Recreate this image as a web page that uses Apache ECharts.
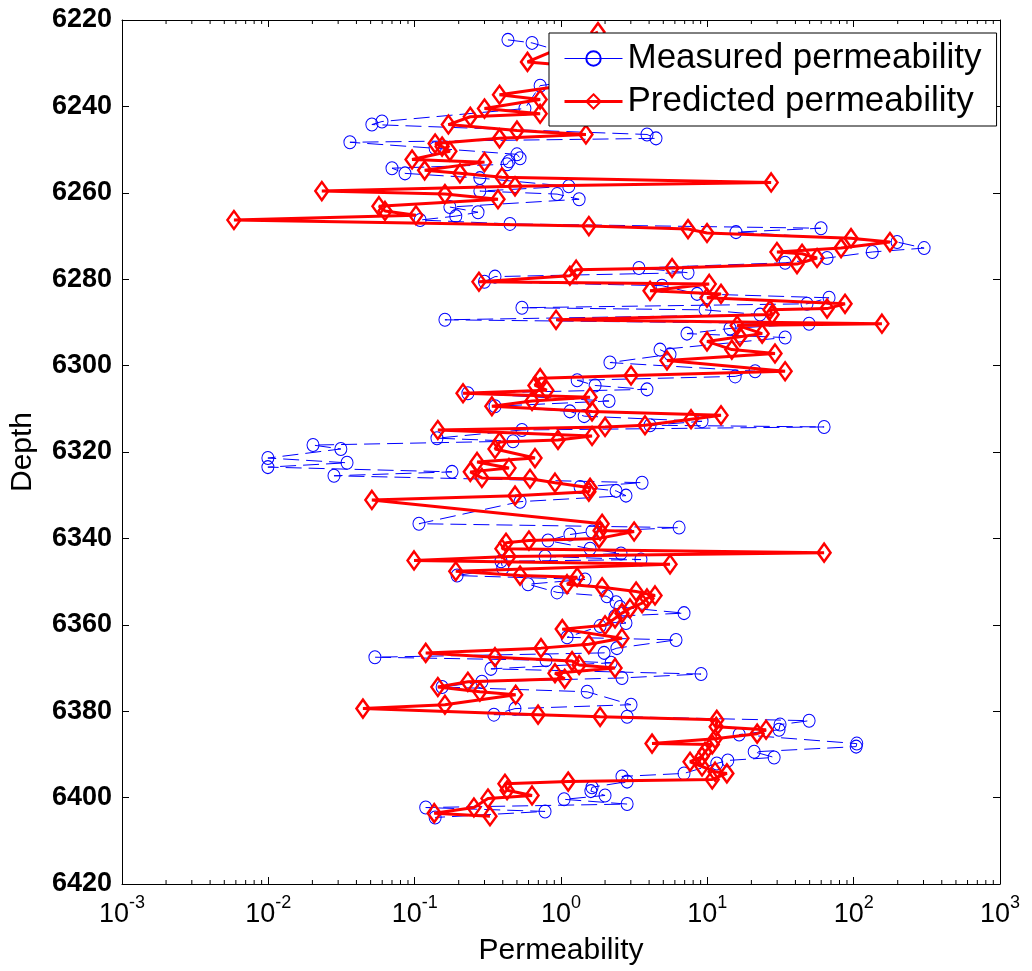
<!DOCTYPE html>
<html><head><meta charset="utf-8">
<script src="https://cdn.jsdelivr.net/npm/echarts@6/dist/echarts.min.js"></script>
<style>html,body{margin:0;padding:0;background:#fff}#c{width:1032px;height:971px}</style>
</head><body><div id="c"></div><script>
// [depth, permeability]
const measured = [[6224.6,0.434],[6225.3,0.634],[6229.2,1.58],[6232.7,2.53],[6235.2,0.72],[6240.5,0.567],[6243.5,0.0598],[6244.2,0.051],[6246.5,3.87],[6247.4,4.46],[6248.3,0.0361],[6249.7,0.138],[6251.1,0.50],[6252.0,0.525],[6252.7,0.441],[6253.4,0.428],[6254.3,0.070],[6255.5,0.0859],[6256.6,0.279],[6258.5,1.13],[6259.6,0.279],[6260.3,0.94],[6261.5,1.33],[6263.3,0.174],[6264.5,0.271],[6265.4,0.191],[6266.3,0.109],[6267.2,0.448],[6268.2,59.8],[6269.1,15.7],[6271.4,198],[6272.8,303],[6273.7,134],[6275.1,65.8],[6276.2,34.0],[6277.4,3.41],[6278.5,7.38],[6279.4,0.354],[6280.6,0.30],[6281.5,4.90],[6283.4,8.51],[6284.3,67.9],[6285.7,48.0],[6286.6,0.541],[6287.1,9.64],[6288.2,22.9],[6289.4,0.161],[6290.3,49.6],[6291.4,14.3],[6292.6,7.26],[6293.5,34.0],[6296.3,4.75],[6297.4,5.56],[6299.3,2.16],[6301.3,21.2],[6302.5,15.5],[6303.4,1.29],[6304.6,1.71],[6305.5,3.87],[6306.4,0.231],[6308.2,2.13],[6309.4,0.354],[6310.6,1.15],[6311.7,1.44],[6312.9,9.20],[6313.8,4.06],[6314.2,62.8],[6314.9,0.541],[6316.8,0.142],[6317.5,0.47],[6318.4,0.0202],[6319.3,0.0313],[6321.4,0.00993],[6322.5,0.0345],[6323.5,0.00993],[6324.6,0.18],[6325.5,0.0281],[6327.1,3.58],[6328.1,1.35],[6329.0,2.38],[6330.1,2.78],[6331.5,0.525],[6336.6,0.107],[6337.5,6.41],[6338.4,1.63],[6339.1,1.15],[6340.5,0.815],[6342.4,1.58],[6343.5,2.57],[6344.2,0.778],[6344.9,3.52],[6345.3,0.389],[6346.9,0.40],[6348.6,0.195],[6349.5,1.46],[6350.6,0.595],[6352.5,0.94],[6353.4,2.06],[6354.8,2.38],[6355.9,2.53],[6357.3,6.93],[6358.0,2.34],[6359.6,2.78],[6360.3,1.85],[6362.9,1.10],[6363.5,6.11],[6365.4,2.41],[6366.5,1.97],[6367.5,0.0535],[6368.2,0.79],[6368.8,2.20],[6370.2,0.332],[6371.4,9.06],[6372.3,2.61],[6373.2,0.288],[6374.4,0.154],[6375.5,1.51],[6378.5,3.01],[6379.4,0.485],[6380.8,0.348],[6381.3,2.83],[6382.2,49.6],[6383.1,31.4],[6384.3,30.9],[6385.4,16.5],[6387.5,105],[6388.2,104],[6389.4,20.9],[6390.7,28.6],[6391.4,13.8],[6392.1,11.6],[6394.4,6.93],[6395.1,2.61],[6396.3,2.83],[6397.6,1.63],[6398.5,1.60],[6399.5,2.00],[6400.4,1.05],[6401.5,2.83],[6402.3,0.119],[6403.2,0.778],[6404.6,0.138]];
const predicted = [[6222.8,1.79],[6229.7,0.59],[6231.5,2.5],[6235.0,1.15],[6237.3,0.38],[6238.4,0.72],[6240.5,0.30],[6241.7,0.72],[6242.4,0.24],[6244.2,0.17],[6245.6,0.50],[6246.5,1.48],[6247.4,0.38],[6248.6,0.138],[6249.3,0.154],[6250.4,0.174],[6252.3,0.096],[6252.9,0.30],[6254.8,0.117],[6255.5,0.204],[6256.4,0.395],[6257.6,27.3],[6258.5,0.485],[6259.6,0.0232],[6260.3,0.161],[6261.5,0.371],[6263.1,0.057],[6264.2,0.0627],[6265.2,0.102],[6266.3,0.00582],[6267.7,1.55],[6268.4,7.38],[6269.3,9.95],[6270.5,95.9],[6271.4,177],[6272.8,82.0],[6273.7,29.9],[6274.1,44.4],[6275.1,56.2],[6276.5,41.0],[6277.4,5.74],[6277.8,1.27],[6279.2,1.15],[6280.6,0.275],[6281.1,10.3],[6282.7,4.06],[6283.4,12.4],[6284.3,9.95],[6285.7,87.3],[6286.8,65.8],[6287.1,26.8],[6288.2,27.7],[6289.4,0.925],[6290.3,156],[6290.7,16.0],[6292.6,23.7],[6293.3,16.7],[6294.4,9.95],[6296.3,14.7],[6297.2,29.0],[6298.8,5.30],[6301.3,34.0],[6302.3,3.01],[6302.9,0.72],[6304.6,0.664],[6305.7,0.80],[6306.4,0.214],[6307.3,1.58],[6308.2,0.634],[6309.4,0.337],[6310.6,1.63],[6311.5,12.4],[6312.4,7.74],[6313.8,3.75],[6314.2,2.00],[6314.9,0.144],[6316.3,1.63],[6317.2,0.954],[6317.7,0.38],[6319.3,0.354],[6321.4,0.664],[6322.3,0.267],[6323.7,0.441],[6324.6,0.24],[6326.0,0.288],[6326.2,0.614],[6327.1,0.91],[6328.3,1.58],[6329.2,1.55],[6330.1,0.485],[6331.1,0.051],[6336.6,1.91],[6338.2,1.85],[6338.4,3.16],[6340.0,1.82],[6340.5,0.604],[6341.0,0.421],[6342.4,0.395],[6343.3,62.8],[6344.2,0.441],[6345.1,0.099],[6346.0,5.56],[6347.6,0.191],[6348.6,0.525],[6349.0,1.29],[6350.6,1.10],[6351.3,1.91],[6352.3,3.26],[6353.2,4.39],[6353.9,3.87],[6355.0,3.58],[6356.2,2.96],[6357.3,2.61],[6358.5,2.34],[6360.1,2.00],[6361.0,1.02],[6363.1,2.61],[6364.5,1.55],[6365.4,0.73],[6366.5,0.119],[6367.5,0.354],[6368.4,1.19],[6369.3,1.33],[6370.0,2.34],[6371.2,0.91],[6372.5,1.06],[6373.2,0.231],[6374.4,0.144],[6375.5,0.279],[6376.2,0.49],[6378.5,0.161],[6379.4,0.0443],[6380.8,0.697],[6381.3,1.85],[6382.0,11.6],[6383.6,11.5],[6384.3,25.2],[6385.2,21.9],[6386.4,11.3],[6387.5,4.19],[6387.7,10.8],[6389.4,9.64],[6390.5,9.20],[6391.7,7.62],[6392.8,9.20],[6394.0,11.3],[6394.4,13.6],[6395.8,10.8],[6396.3,1.12],[6396.8,0.414],[6398.3,0.428],[6399.5,0.634],[6400.2,0.317],[6402.3,0.254],[6403.6,0.136],[6404.3,0.327]];
const depthRange = [6220, 6420];
const depthStep = 20;
const permRange = [0.001, 1000];
const decadeExponents = [-3, -2, -1, 0, 1, 2];
const minorMultipliers = [2, 3, 4, 5, 6, 7, 8, 9];
const seriesNames = ['Measured permeability', 'Predicted permeability'];

const FONT = 'Liberation Sans, Arial, sans-serif';
const minorTicks = [];
decadeExponents.forEach(e => minorMultipliers.forEach(m => minorTicks.push([m * Math.pow(10, e), depthRange[0]])));

const chart = echarts.init(document.getElementById('c'), null, {renderer: 'canvas'});
const xBase = {
  type: 'log', logBase: 10, min: permRange[0], max: permRange[1], splitNumber: 6,
  axisLine: {show: true, lineStyle: {color: '#000', width: 1}},
  axisTick: {show: true, inside: true, length: 7, lineStyle: {color: '#000'}},
  splitLine: {show: false}
};
const yBase = {
  type: 'value', inverse: true, min: depthRange[0], max: depthRange[1], interval: depthStep,
  axisLine: {show: true, lineStyle: {color: '#000', width: 1}},
  axisTick: {show: true, inside: true, length: 7, lineStyle: {color: '#000'}},
  splitLine: {show: false}
};
chart.setOption({
  animation: false,
  backgroundColor: '#fff',
  grid: {left: 122, right: 32, top: 20, bottom: 83},
  legend: {
    left: 549, top: 33, orient: 'vertical',
    backgroundColor: '#fff', borderColor: '#000', borderWidth: 1,
    padding: [8, 15, 7, 14], itemGap: 8, itemWidth: 58, itemHeight: 18,
    data: [
      {name: seriesNames[0], lineStyle: {type: 'solid', width: 1, color: '#0000ff'}},
      {name: seriesNames[1], lineStyle: {type: 'solid', width: 3, color: '#ff0000'}}
    ],
    textStyle: {fontSize: 35, fontFamily: FONT, color: '#000'}
  },
  xAxis: [
    Object.assign({}, xBase, {
      position: 'bottom',
      name: 'Permeability', nameLocation: 'middle', nameGap: 52,
      nameTextStyle: {fontSize: 30, fontFamily: FONT, color: '#000'},
      axisLabel: {
        margin: 10,
        formatter: v => '{b|10}{s|' + Math.round(Math.log10(v)) + '}',
        rich: {
          b: {fontSize: 27, fontFamily: FONT, color: '#000', verticalAlign: 'bottom', lineHeight: 34},
          s: {fontSize: 18, fontFamily: FONT, color: '#000', verticalAlign: 'top', lineHeight: 20}
        }
      }
    }),
    Object.assign({}, xBase, {position: 'top', axisLabel: {show: false}})
  ],
  yAxis: [
    Object.assign({}, yBase, {
      position: 'left',
      name: 'Depth', nameLocation: 'middle', nameGap: 84, nameRotate: 90,
      nameTextStyle: {fontSize: 30, fontFamily: FONT, color: '#000'},
      axisLabel: {margin: 10, fontSize: 27, fontWeight: 'bold', fontFamily: FONT, color: '#000', formatter: v => String(v)}
    }),
    Object.assign({}, yBase, {position: 'right', axisLabel: {show: false}})
  ],
  series: [
    {
      name: seriesNames[0], type: 'line', xAxisIndex: 0, yAxisIndex: 0,
      data: measured.map(d => [d[1], d[0]]),
      symbol: 'circle', symbolSize: [12, 13], showSymbol: true,
      color: '#0000ff',
      itemStyle: {color: 'rgba(255,255,255,0)', borderColor: '#0000ff', borderWidth: 1},
      lineStyle: {color: '#0000ff', width: 1, type: [16, 7]},
      z: 2
    },
    {
      name: seriesNames[1], type: 'line', xAxisIndex: 0, yAxisIndex: 0,
      data: predicted.map(d => [d[1], d[0]]),
      symbol: 'diamond', symbolSize: [13, 18], showSymbol: true,
      color: '#ff0000',
      itemStyle: {color: 'rgba(255,255,255,0)', borderColor: '#ff0000', borderWidth: 2.5},
      lineStyle: {color: '#ff0000', width: 3},
      z: 3
    },
    {
      type: 'custom', xAxisIndex: 0, yAxisIndex: 0, silent: true, clip: false,
      data: minorTicks,
      renderItem: (params, api) => {
        const v = api.value(0);
        const b = api.coord([v, depthRange[1]]);
        const t = api.coord([v, depthRange[0]]);
        return {type: 'group', children: [
          {type: 'line', shape: {x1: b[0], y1: b[1], x2: b[0], y2: b[1] - 4}, style: {stroke: '#000', lineWidth: 1}},
          {type: 'line', shape: {x1: t[0], y1: t[1], x2: t[0], y2: t[1] + 4}, style: {stroke: '#000', lineWidth: 1}}
        ]};
      },
      z: 1
    }
  ]
});
</script></body></html>
